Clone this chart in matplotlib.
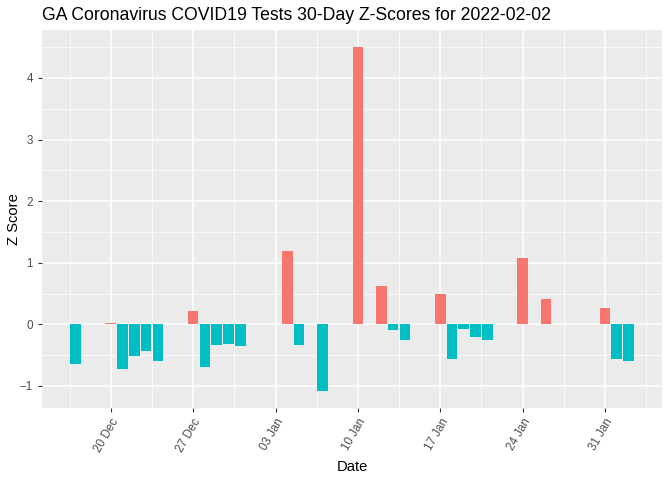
import matplotlib
matplotlib.use('Agg')
import matplotlib.pyplot as plt
import matplotlib.dates as mdates
import numpy as np
import pandas as pd

# Z-scores
dates = ['2021-12-17', '2021-12-20', '2021-12-21', '2021-12-22', '2021-12-23',
         '2021-12-24', '2021-12-27', '2021-12-28', '2021-12-29', '2021-12-30',
         '2021-12-31', '2022-01-04', '2022-01-05', '2022-01-07', '2022-01-10',
         '2022-01-12', '2022-01-13', '2022-01-14', '2022-01-17', '2022-01-18',
         '2022-01-19', '2022-01-20', '2022-01-21', '2022-01-24', '2022-01-26',
         '2022-01-31', '2022-02-01', '2022-02-02']
zscores = [-0.64, 0.02, -0.73, -0.51, -0.44,
           -0.59, 0.21, -0.69, -0.34, -0.32,
           -0.36, 1.19, -0.34, -1.08, 4.50,
           0.62, -0.10, -0.26, 0.50, -0.57,
           -0.07, -0.20, -0.26, 1.08, 0.41,
           0.26, -0.57, -0.59]
week_ticks = ['2021-12-20', '2021-12-27', '2022-01-03', '2022-01-10',
              '2022-01-17', '2022-01-24', '2022-01-31']

x = mdates.date2num(pd.to_datetime(dates))
z = np.array(zscores)
colors = np.where(z > 0, '#F8766D', '#00BFC4')

fig = plt.figure(figsize=(6.72, 4.8), dpi=100)
ax = fig.add_axes([42/672, 72/480, 620/672, 378/480])
ax.set_facecolor('#EBEBEB')

ax.bar(x, z, width=0.9, color=colors, zorder=3)

# ggplot-like 5% expansion
lo, hi = x.min() - 0.45, x.max() + 0.45
pad = (hi - lo) * 0.05
ax.set_xlim(lo - pad, hi + pad)
ylo, yhi = z.min(), z.max()
ypad = (yhi - ylo) * 0.05
ax.set_ylim(ylo - ypad, yhi + ypad)

xt = mdates.date2num(pd.to_datetime(week_ticks))
ax.set_xticks(xt)
ax.set_xticklabels([pd.Timestamp(d).strftime('%d %b') for d in week_ticks],
                   rotation=60, ha='right', va='top', rotation_mode='anchor')
ax.set_xticks(np.concatenate([[xt[0] - 3.5], xt + 3.5]), minor=True)
ax.set_yticks([-1, 0, 1, 2, 3, 4])
ax.set_yticks([-0.5, 0.5, 1.5, 2.5, 3.5, 4.5], minor=True)

ax.grid(which='major', color='white', linewidth=1.1, zorder=0)
ax.grid(which='minor', color='white', linewidth=0.55, zorder=0)
ax.set_axisbelow(True)
for s in ax.spines.values():
    s.set_visible(False)
ax.tick_params(which='major', length=3, color='#333333', labelcolor='#4D4D4D',
               labelsize=8.4, width=0.8)
ax.tick_params(which='minor', length=0)
ax.tick_params(axis='x', pad=3)

for lab in ax.get_xticklabels() + ax.get_yticklabels():
    lab.set_family('Liberation Sans')

ax.set_xlabel('Date', fontsize=10.6, family='Liberation Sans', labelpad=4)
ax.set_ylabel('Z Score', fontsize=10.6, family='Liberation Sans')
ax.yaxis.set_label_coords(-21/620, 0.5)
fig.text(42/672, 1 - 16/480, 'GA Coronavirus COVID19 Tests 30-Day Z-Scores for 2022-02-02',
         fontsize=12.7, family='Liberation Sans', va='center', ha='left')

fig.savefig('out.png', dpi=100)
